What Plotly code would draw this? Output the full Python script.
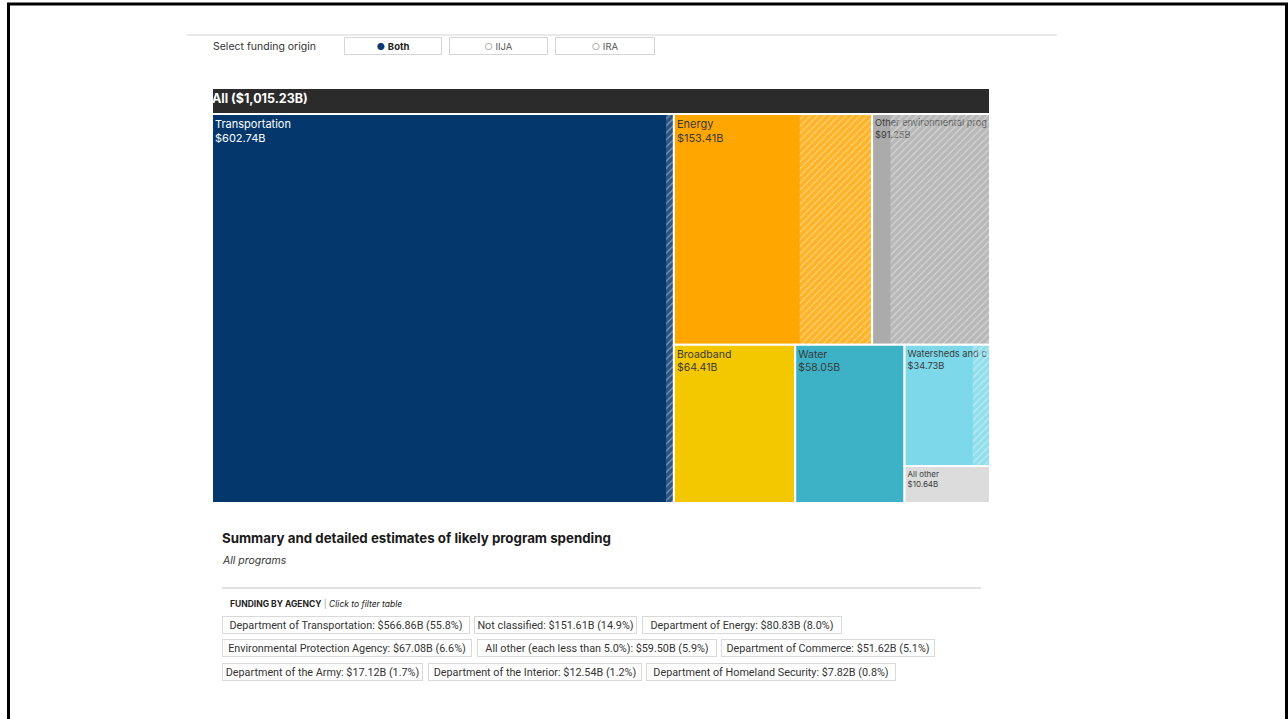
import plotly.graph_objects as go

W, H = 1288, 719

# ---------------- data ----------------
categories = ["Transportation", "Energy", "Other environmental programs", "Broadband",
              "Water", "Watersheds and coasts", "All other"]
tile_text = ["Transportation", "Energy", "Other environmental prog", "Broadband",
             "Water", "Watersheds and c", "All other"]
totals = [602.74, 153.41, 91.25, 64.41, 58.05, 34.73, 10.64]
ira_part = [10.2, 56.1, 77.0, 0.0, 0.0, 7.0, 0.0]   # IRA-funded share (hatched)
tile_colors = ["#04386c", "#ffa600", "#ababab", "#f3c800", "#3db2c6", "#7dd9ea", "#dcdcdc"]
tile_text_colors = ["#ffffff", "#3a3a3a", "#3a3a3a", "#3a3a3a", "#3a3a3a", "#3a3a3a", "#3a3a3a"]
tile_text_sizes = [11, 11, 10, 10.5, 10.5, 10, 8]
# grouping of the squarified rows (used to align the hatch overlay)
cat_group = ["", "top", "top", "bottom", "bottom", "side", "side"]
group_parent = {"rest": "", "top": "rest", "bottom": "rest", "side": "bottom"}

agencies = ["Department of Transportation", "Not classified", "Department of Energy",
            "Environmental Protection Agency", "All other (each less than 5.0%)",
            "Department of Commerce", "Department of the Army",
            "Department of the Interior", "Department of Homeland Security"]
agency_values = [566.86, 151.61, 80.83, 67.08, 59.50, 51.62, 17.12, 12.54, 7.82]

origin_options = ["Both", "IIJA", "IRA"]

# ---------------- layout constants ----------------
TM_X = (212, 990)
TM_TOP, TM_HEAD, TM_BOT = 88, 26, 503
pill_left = [222, 474, 642, 222, 477, 721, 222, 428, 646]
pill_right = [470, 637, 842, 472, 717, 935, 423, 642, 896]
pill_y = [625, 625, 625, 648, 648, 648, 672, 672, 672]
btn_left = [344, 449, 555]
btn_right = [442, 548, 655]


def px(x):
    return x / W


def py(y):
    return 1 - y / H


grand_total = sum(totals)
root_label = f"All (${grand_total:,.2f}B)"

fig = go.Figure()

# ---- trace A: coloured tiles with labels ----
idsA = ["All"] + categories
parentsA = [""] + ["All"] * len(categories)
valuesA = [0] + totals
textA = [f"&nbsp;<b>{root_label}</b>"] + [f"{t}<br>${v:.2f}B" for t, v in zip(tile_text, totals)]
fig.add_trace(go.Treemap(
    ids=idsA, labels=[root_label] + categories, parents=parentsA, values=valuesA,
    branchvalues="remainder", sort=False,
    text=textA, texttemplate="%{text}", textposition="top left",
    textfont=dict(family="Inter", size=[12.5] + tile_text_sizes,
                  color=["#ffffff"] + tile_text_colors,
                  weight=[700] + [400] * len(categories)),
    marker=dict(colors=["#2b2b2b"] + tile_colors, line=dict(color="white", width=2),
                pad=dict(t=TM_HEAD, l=0, r=0, b=0), depthfade=False),
    tiling=dict(packing="squarify", pad=0), pathbar=dict(visible=False),
    domain=dict(x=[px(TM_X[0]), px(TM_X[1])], y=[py(TM_BOT), py(TM_TOP)]),
    hovertemplate="%{label}<br>$%{value:,.2f}B<extra></extra>",
))

# ---- trace B: hatch overlay for IRA share ----
idsB, parB, valB, colB, shpB = [], [], [], [], []
depth = {}


def add(node, parent, value=0, color="rgba(0,0,0,0)", shape=""):
    idsB.append(node); parB.append(parent); valB.append(value)
    colB.append(color); shpB.append(shape)
    depth[node] = 0 if parent == "" else depth[parent] + 1


add("B", "")


def ensure_group(g):
    if g == "" or g in depth:
        return
    ensure_group(group_parent[g])
    add(g, "B" if group_parent[g] == "" else group_parent[g])


for c, g in zip(categories, cat_group):
    ensure_group(g)
    add("c:" + c, "B" if g == "" else g)

for c, tot, ira in zip(categories, totals, ira_part):
    holder = "c:" + c
    if depth[holder] % 2 == 1:
        add("w:" + c, holder)
        holder = "w:" + c
    add("iija:" + c, holder, round(tot - ira, 4))
    if ira > 0:
        add("ira:" + c, holder, ira, "rgba(255,255,255,0.15)", "/")

fig.add_trace(go.Treemap(
    ids=idsB, labels=idsB, parents=parB, values=valB,
    branchvalues="remainder", sort=False, textinfo="none", hoverinfo="skip",
    marker=dict(colors=colB, line=dict(width=0), pad=dict(t=0, l=0, r=0, b=0), depthfade=False,
                pattern=dict(shape=shpB, fillmode="overlay", fgcolor="white",
                             fgopacity=0.4, size=5, solidity=0.25)),
    tiling=dict(packing="slice-dice", pad=0), pathbar=dict(visible=False),
    domain=dict(x=[px(TM_X[0]), px(TM_X[1])], y=[py(TM_BOT), py(TM_TOP + TM_HEAD)]),
))

# ---------------- page furniture ----------------
shapes = [
    dict(type="rect", xref="paper", yref="paper", x0=px(8.5), x1=px(1286.5), y0=-0.05, y1=py(4),
         line=dict(color="black", width=3), fillcolor="rgba(0,0,0,0)", layer="above"),
    dict(type="line", xref="paper", yref="paper", x0=px(187), x1=px(1057), y0=py(35), y1=py(35),
         line=dict(color="#e9e9e9", width=2)),
    dict(type="line", xref="paper", yref="paper", x0=px(222), x1=px(981), y0=py(588), y1=py(588),
         line=dict(color="#c4c4c4", width=1)),
]

annotations = []


def ann(text, x, y, size, color="#222", xanchor="left", family="Inter", **kw):
    annotations.append(dict(xref="paper", yref="paper", x=px(x), y=py(y), text=text,
                            showarrow=False, xanchor=xanchor, yanchor="middle",
                            font=dict(family=family, size=size, color=color), **kw))


ann("Select funding origin", 211, 46, 10.5, "#333")
for i, (opt, l, r) in enumerate(zip(origin_options, btn_left, btn_right)):
    if i == 0:
        t = f"<span style='color:#0b3a6e'>●</span> <b>{opt}</b>"
        col = "#222"
    else:
        t = f"<span style='color:#aaa'>○</span> {opt}"
        col = "#555"
    ann(t, l, 46, 9.5, col, width=r - l - 6, height=12, align="center",
        bordercolor="#d6d6d6", borderwidth=1, borderpad=2, bgcolor="white")

ann("<b>Summary and detailed estimates of likely program spending</b>", 220, 538, 13.3, "#1a1a1a")
ann("<i>All programs</i>", 220, 560, 10.5, "#333")
ann("<b>FUNDING BY AGENCY</b> <span style='color:#999'>|</span> <i>Click to filter table</i>",
    228, 603, 8.5, "#222")

for name, v, l, r, y in zip(agencies, agency_values, pill_left, pill_right, pill_y):
    pct = v / grand_total * 100
    ann(f"{name}: ${v:.2f}B ({pct:.1f}%)", l, y, 10.8, "#333", family="Roboto",
        width=r - l - 6, height=12, align="center",
        bordercolor="#d9d9d9", borderwidth=1, borderpad=2, bgcolor="white")

fig.update_layout(
    width=W, height=H, margin=dict(l=0, r=0, t=0, b=0),
    paper_bgcolor="white", plot_bgcolor="white", showlegend=False,
    font=dict(family="Inter", color="#222"),
    shapes=shapes, annotations=annotations,
)

fig.write_html("out.html", config={"displayModeBar": False},
               post_script="document.body.style.margin='0px';document.body.style.overflow='hidden';")
